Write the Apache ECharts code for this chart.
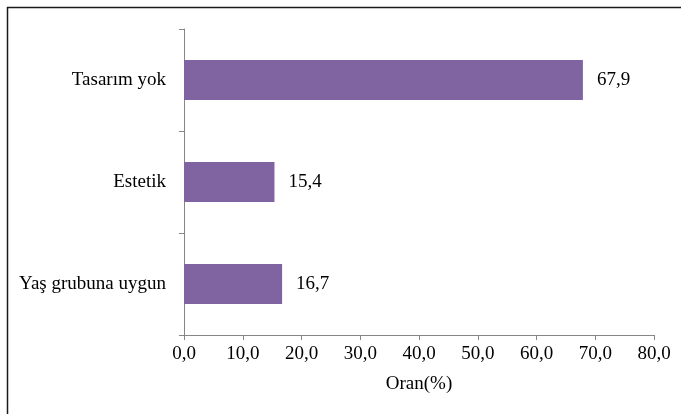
<!DOCTYPE html>
<html>
<head>
<meta charset="utf-8">
<script src="https://cdn.jsdelivr.net/npm/echarts@6/dist/echarts.min.js"></script>
<style>
  html, body { margin: 0; padding: 0; background: #fff; }
  #chart { width: 681px; height: 414px; }
</style>
</head>
<body>
<div id="chart"></div>
<script>
// Categories listed bottom to top, as the category axis draws them
const categories = ['Yaş grubuna uygun', 'Estetik', 'Tasarım yok'];
const rates = [16.7, 15.4, 67.9];
const axisMin = 0;
const axisMax = 80;
const axisStep = 10;
const axisTitle = 'Oran(%)';

const fmt = v => Number(v).toFixed(1).replace('.', ',');
const serif = '"Liberation Serif", "DejaVu Serif", serif';
const fs = 19;

const chart = echarts.init(document.getElementById('chart'), null, { renderer: 'canvas' });
chart.setOption({
  animation: false,
  backgroundColor: '#ffffff',
  grid: { left: 184, right: 27, top: 29, bottom: 79, containLabel: false },
  xAxis: {
    type: 'value',
    min: axisMin,
    max: axisMax,
    interval: axisStep,
    name: axisTitle,
    nameLocation: 'middle',
    nameGap: 40,
    nameTextStyle: { fontFamily: serif, fontSize: fs, color: '#000' },
    axisLine: { show: true, lineStyle: { color: '#868686', width: 1 } },
    axisTick: { show: true, length: 5, lineStyle: { color: '#868686' } },
    axisLabel: { formatter: fmt, fontFamily: serif, fontSize: fs, color: '#000', margin: 10 },
    splitLine: { show: false }
  },
  yAxis: {
    type: 'category',
    data: categories,
    axisLine: { show: true, lineStyle: { color: '#868686', width: 1 } },
    axisTick: { show: true, length: 5, lineStyle: { color: '#868686' } },
    axisLabel: { fontFamily: serif, fontSize: fs, color: '#000', margin: 18 }
  },
  series: [{
    type: 'bar',
    data: rates,
    barWidth: 40,
    itemStyle: { color: '#8064a2' },
    label: {
      show: true,
      position: 'right',
      distance: 14,
      formatter: p => fmt(p.value),
      fontFamily: serif,
      fontSize: fs,
      color: '#000'
    }
  }],
  graphic: [
    { type: 'line', shape: { x1: 7, y1: 7.5, x2: 681, y2: 7.5 }, style: { stroke: '#1a1a1a', lineWidth: 1.5 } },
    { type: 'line', shape: { x1: 7.5, y1: 7, x2: 7.5, y2: 414 }, style: { stroke: '#1a1a1a', lineWidth: 1.5 } }
  ]
});
</script>
</body>
</html>
